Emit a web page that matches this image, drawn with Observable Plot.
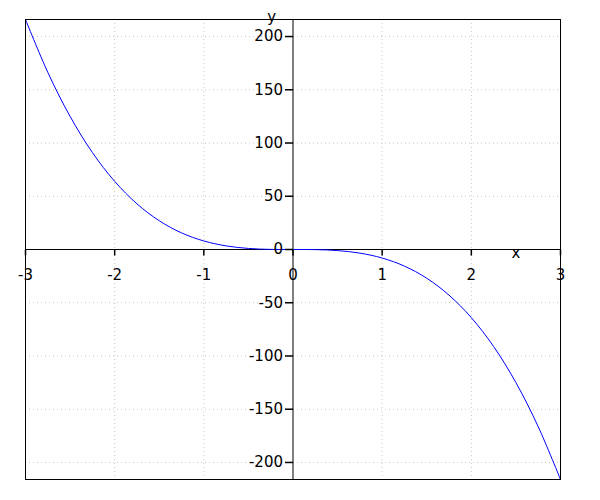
<!DOCTYPE html>
<html>
<head>
<meta charset="utf-8">
<script src="https://cdn.jsdelivr.net/npm/d3@7"></script>
<script src="https://cdn.jsdelivr.net/npm/@observablehq/plot@0.6"></script>
<style>
  html, body { margin: 0; padding: 0; background: #fff; }
  svg { display: block; }
</style>
</head>
<body>
<div id="chart"></div>
<script>
// Curve samples
const xs = [-3, -2.75, -2.5, -2.25, -2, -1.75, -1.5, -1.25, -1, -0.75, -0.5, -0.25, 0,
            0.25, 0.5, 0.75, 1, 1.25, 1.5, 1.75, 2, 2.25, 2.5, 2.75, 3];
const ys = [216, 166.4, 125, 91.1, 64, 42.9, 27, 15.6, 8, 3.4, 1, 0.1, 0,
            -0.1, -1, -3.4, -8, -15.6, -27, -42.9, -64, -91.1, -125, -166.4, -216];

const xTicks = [-3, -2, -1, 0, 1, 2, 3];
const yTicks = [-200, -150, -100, -50, 0, 50, 100, 150, 200];
const xGrid = [-2, -1, 1, 2];
const yGrid = [-200, -150, -100, -50, 50, 100, 150, 200];
const xAxisTitle = "x";
const yAxisTitle = "y";

const curve = xs.map((x, i) => ({x, y: ys[i]}));

const tickDown = {draw(ctx) { ctx.moveTo(0, 0); ctx.lineTo(0, 6); }};
const tickLeft = {draw(ctx) { ctx.moveTo(0, 0); ctx.lineTo(-8, 0); }};

const font = "DejaVu Sans";

const chart = Plot.plot({
  width: 600,
  height: 500,
  marginLeft: 25,
  marginRight: 40,
  marginTop: 19,
  marginBottom: 21,
  style: {fontFamily: font, background: "white"},
  x: {domain: [-3, 3], axis: null},
  y: {domain: [-216, 216], axis: null},
  marks: [
    Plot.ruleX(xGrid, {x: d => d, stroke: "#c8c8c8", strokeDasharray: "1,3"}),
    Plot.ruleY(yGrid, {y: d => d, stroke: "#c8c8c8", strokeDasharray: "1,3"}),
    Plot.ruleY([0], {stroke: "black"}),
    Plot.ruleX([0], {stroke: "black"}),
    Plot.line(curve, {x: "x", y: "y", stroke: "#0000ff", strokeWidth: 1, curve: "catmull-rom"}),
    Plot.dot(xTicks, {x: d => d, y: 0, symbol: tickDown, stroke: "black", fill: "none", r: 3}),
    Plot.dot(yTicks, {x: 0, y: d => d, symbol: tickLeft, stroke: "black", fill: "none", r: 3}),
    Plot.text(xTicks, {x: d => d, y: 0, text: d => String(d), dy: 26, fontSize: 15, fill: "black", textAnchor: "middle"}),
    Plot.text(yTicks, {x: 0, y: d => d, text: d => String(d), dx: -10, fontSize: 15, fill: "black", textAnchor: "end"}),
    Plot.text([xAxisTitle], {x: 2.5, y: 0, text: d => d, dy: 4, fontSize: 15, fill: "black", textAnchor: "middle"}),
    Plot.text([yAxisTitle], {x: -0.24, y: 216, text: d => d, dy: -2, fontSize: 15, fill: "black", textAnchor: "middle"}),
    Plot.frame({stroke: "black"})
  ]
});

document.getElementById("chart").appendChild(chart);
</script>
</body>
</html>
